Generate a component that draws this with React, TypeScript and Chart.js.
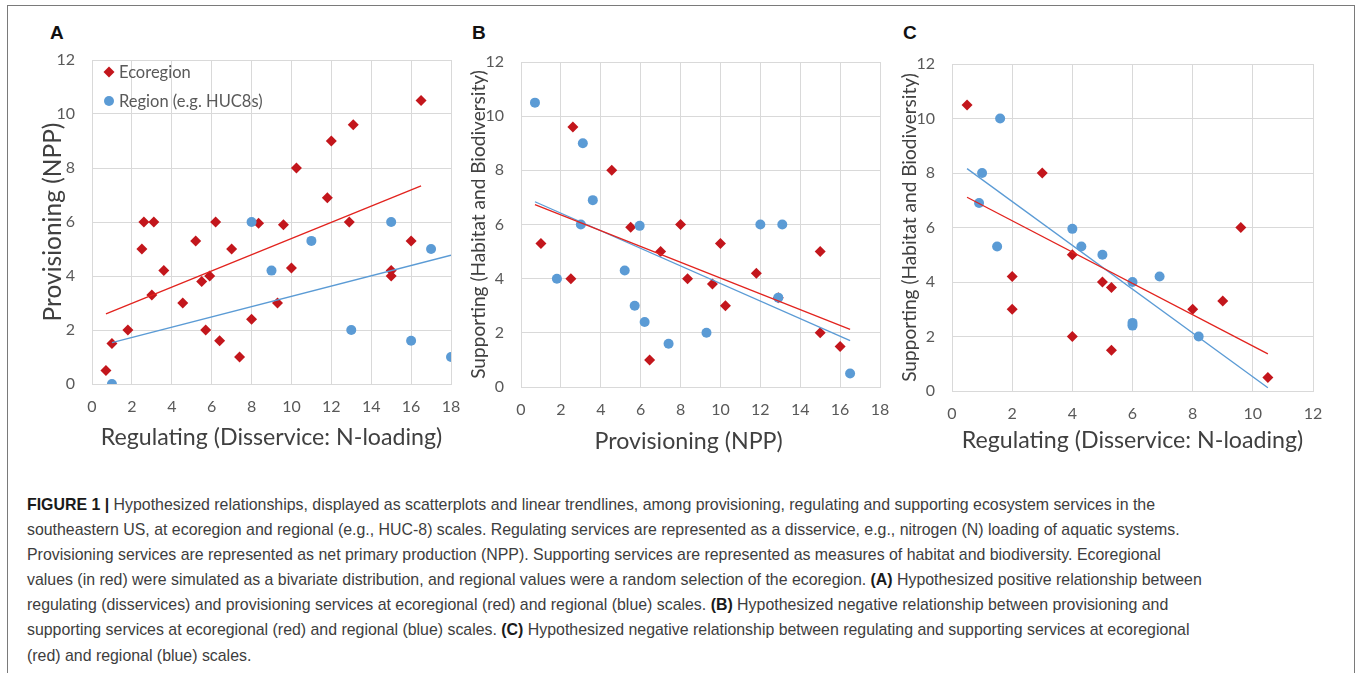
import React, { useEffect, useRef } from "react";
import { Chart, registerables } from "chart.js";

Chart.register(...registerables);

// ---------- Data ----------
// Panel A: Regulating (x) vs Provisioning (y)
const aEcoX = [0.7, 1.0, 1.8, 2.5, 2.6, 3.1, 3.0, 3.6, 4.55, 5.2, 5.5, 5.7, 5.9, 6.2, 6.4, 7.0, 7.4, 8.0, 8.35, 9.3, 9.6, 10.0, 10.25, 11.8, 12.0, 12.9, 13.1, 15.0, 15.0, 16.0, 16.5];
const aEcoY = [0.5, 1.5, 2.0, 5.0, 6.0, 6.0, 3.3, 4.2, 3.0, 5.3, 3.8, 2.0, 4.0, 6.0, 1.6, 5.0, 1.0, 2.4, 5.95, 3.0, 5.9, 4.3, 8.0, 6.9, 9.0, 6.0, 9.6, 4.2, 4.0, 5.3, 10.5];
const aRegX = [1.0, 8.0, 9.0, 11.0, 13.0, 15.0, 16.0, 17.0, 18.0];
const aRegY = [0.0, 6.0, 4.2, 5.3, 2.0, 6.0, 1.6, 5.0, 1.0];
const aEcoTrendX = [0.7, 16.5];
const aEcoTrendY = [2.6, 7.34];
const aRegTrendX = [1.0, 18.0];
const aRegTrendY = [1.53, 4.77];

// Panel B: Provisioning (x) vs Supporting (y)
const bEcoX = [1.0, 2.5, 2.6, 4.55, 5.5, 6.45, 7.0, 8.0, 8.35, 9.6, 10.0, 10.25, 11.8, 12.9, 15.0, 15.0, 16.0];
const bEcoY = [5.3, 4.0, 9.6, 8.0, 5.9, 1.0, 5.0, 6.0, 4.0, 3.8, 5.3, 3.0, 4.2, 3.3, 5.0, 2.0, 1.5];
const bRegX = [0.7, 1.8, 3.0, 3.1, 3.6, 5.2, 5.7, 5.95, 6.2, 7.4, 9.3, 12.0, 13.1, 12.9, 16.5];
const bRegY = [10.5, 4.0, 6.0, 9.0, 6.9, 4.3, 3.0, 5.95, 2.4, 1.6, 2.0, 6.0, 6.0, 3.3, 0.5];
const bEcoTrendX = [0.7, 16.5];
const bEcoTrendY = [6.73, 2.13];
const bRegTrendX = [0.7, 16.5];
const bRegTrendY = [6.84, 1.71];

// Panel C: Regulating (x) vs Supporting (y)
const cEcoX = [0.5, 2.0, 2.0, 3.0, 4.0, 4.0, 5.0, 5.3, 5.3, 8.0, 9.0, 9.6, 10.5];
const cEcoY = [10.5, 4.2, 3.0, 8.0, 5.0, 2.0, 4.0, 3.8, 1.5, 3.0, 3.3, 6.0, 0.5];
const cRegX = [0.9, 1.0, 1.5, 1.6, 4.0, 4.3, 5.0, 6.0, 6.0, 6.0, 6.9, 8.2];
const cRegY = [6.9, 8.0, 5.3, 10.0, 5.95, 5.3, 5.0, 4.0, 2.5, 2.4, 4.2, 2.0];
const cEcoTrendX = [0.5, 10.5];
const cEcoTrendY = [7.11, 1.36];
const cRegTrendX = [0.5, 10.5];
const cRegTrendY = [8.16, 0.12];

const xMaxA = 18;
const xMaxB = 18;
const xMaxC = 12;
const yMaxAll = 12;
const tickStep = 2;

const ecoLabel = "Ecoregion";
const regLabel = "Region (e.g. HUC8s)";

// ---------- Styles ----------
const FONT = "Lato, 'Open Sans', 'DejaVu Sans', sans-serif";
const RED = "#C3161C";
const RED_LINE = "#E2231E";
const BLUE = "#5B9BD5";
const BLUE_LINE = "#5B9BD5";
const GRID = "#D9D9D9";
const TICK = "#595959";
const TITLE = "#404040";

function pts(xs: number[], ys: number[]) {
  return xs.map((x, i) => ({ x, y: ys[i] }));
}

function buildDatasets(
  ecoX: number[], ecoY: number[], regX: number[], regY: number[],
  ecoTX: number[], ecoTY: number[], regTX: number[], regTY: number[]
) {
  return [
    {
      label: ecoLabel + " trend",
      data: pts(ecoTX, ecoTY),
      showLine: true,
      borderColor: RED_LINE,
      borderWidth: 1.3,
      pointRadius: 0,
      fill: false,
    },
    {
      label: regLabel + " trend",
      data: pts(regTX, regTY),
      showLine: true,
      borderColor: BLUE_LINE,
      borderWidth: 1.3,
      pointRadius: 0,
      fill: false,
    },
    {
      label: regLabel,
      data: pts(regX, regY),
      pointStyle: "circle",
      pointRadius: 5,
      backgroundColor: BLUE,
      borderColor: BLUE,
      borderWidth: 0,
      showLine: false,
    },
    {
      label: ecoLabel,
      data: pts(ecoX, ecoY),
      pointStyle: "rectRot",
      pointRadius: 5.5,
      backgroundColor: RED,
      borderColor: RED,
      borderWidth: 0,
      showLine: false,
    },
  ];
}

const insideLegend = {
  id: "insideLegend",
  afterDatasetsDraw(chart: any, _args: any, opts: any) {
    if (!opts || !opts.items) return;
    const { ctx, chartArea } = chart;
    ctx.save();
    ctx.font = `${opts.fontSize}px ${FONT}`;
    ctx.textBaseline = "middle";
    opts.items.forEach((dsIndex: number, i: number) => {
      const ds = chart.data.datasets[dsIndex];
      const cx = chartArea.left + opts.markerX;
      const cy = chartArea.top + opts.firstY + i * opts.rowGap;
      ctx.fillStyle = ds.backgroundColor;
      ctx.beginPath();
      const r = ds.pointRadius;
      if (ds.pointStyle === "rectRot") {
        ctx.moveTo(cx - r, cy);
        ctx.lineTo(cx, cy - r);
        ctx.lineTo(cx + r, cy);
        ctx.lineTo(cx, cy + r);
        ctx.closePath();
      } else {
        ctx.arc(cx, cy, r, 0, Math.PI * 2);
      }
      ctx.fill();
      ctx.fillStyle = TICK;
      ctx.fillText(ds.label, chartArea.left + opts.textX, cy + 1);
    });
    ctx.restore();
  },
};

type Geo = {
  left: number; top: number; width: number; height: number;
  padTop: number; padRight: number; yAxisW: number; xAxisH: number;
  yTitlePad: number; xTitlePad: number; yTitleSize: number; xTitleSize: number;
};

function Panel(props: {
  geo: Geo; xMax: number; xTitle: string; yTitle: string; datasets: any[]; legend?: boolean;
}) {
  const ref = useRef<HTMLCanvasElement>(null);
  const { geo, xMax, xTitle, yTitle, datasets, legend } = props;
  useEffect(() => {
    const chart = new Chart(ref.current as HTMLCanvasElement, {
      type: "scatter",
      data: { datasets } as any,
      plugins: legend ? [insideLegend as any] : [],
      options: {
        responsive: false,
        animation: false,
        devicePixelRatio: 1,
        layout: { padding: { top: geo.padTop, right: geo.padRight, left: 0, bottom: 0 } },
        plugins: {
          legend: { display: false },
          tooltip: { enabled: false },
          insideLegend: legend
            ? { items: [3, 2], markerX: 17, textX: 27, firstY: 12, rowGap: 29, fontSize: 16.5 }
            : undefined,
        } as any,
        scales: {
          x: {
            type: "linear",
            min: 0,
            max: xMax,
            afterFit: (s: any) => { s.height = geo.xAxisH; },
            grid: { color: GRID, lineWidth: 1, drawTicks: false },
            border: { display: true, color: GRID },
            ticks: { stepSize: tickStep, color: TICK, font: { family: FONT, size: 16 }, padding: 13, maxRotation: 0 },
            title: {
              display: true,
              text: xTitle,
              color: TITLE,
              font: { family: FONT, size: geo.xTitleSize },
              padding: { top: 0, bottom: geo.xTitlePad },
            },
          },
          y: {
            type: "linear",
            min: 0,
            max: yMaxAll,
            afterFit: (s: any) => { s.width = geo.yAxisW; },
            grid: { color: GRID, lineWidth: 1, drawTicks: false },
            border: { display: true, color: GRID },
            ticks: { stepSize: tickStep, color: TICK, font: { family: FONT, size: 16 }, padding: 17 },
            title: {
              display: true,
              text: yTitle,
              color: TITLE,
              font: { family: FONT, size: geo.yTitleSize },
              padding: { top: geo.yTitlePad, bottom: 0 },
            },
          },
        },
      } as any,
    });
    return () => chart.destroy();
  }, []);
  return (
    <canvas
      ref={ref}
      width={geo.width}
      height={geo.height}
      style={{ position: "absolute", left: geo.left, top: geo.top, width: geo.width, height: geo.height }}
    />
  );
}

// chart areas: A 92-451 x 60-384, B 521-880 x 62-387, C 952-1313 x 64-391
const geoA: Geo = { left: 30, top: 30, width: 446, height: 424, padTop: 30, padRight: 25, yAxisW: 62, xAxisH: 70, yTitlePad: 8, xTitlePad: 3, yTitleSize: 24.5, xTitleSize: 23.2 };
const geoB: Geo = { left: 464, top: 32, width: 441, height: 425, padTop: 30, padRight: 25, yAxisW: 57, xAxisH: 70, yTitlePad: 3, xTitlePad: 1.5, yTitleSize: 19.1, xTitleSize: 23.2 };
const geoC: Geo = { left: 893, top: 34, width: 445, height: 427, padTop: 30, padRight: 25, yAxisW: 59, xAxisH: 70, yTitlePad: 5, xTitlePad: 7, yTitleSize: 19.1, xTitleSize: 23.2 };

const captionLines: { b?: string; t: string }[][] = [
  [{ b: "FIGURE 1 |", t: "" }, { t: " Hypothesized relationships, displayed as scatterplots and linear trendlines, among provisioning, regulating and supporting ecosystem services in the" }],
  [{ t: "southeastern US, at ecoregion and regional (e.g., HUC-8) scales. Regulating services are represented as a disservice, e.g., nitrogen (N) loading of aquatic systems." }],
  [{ t: "Provisioning services are represented as net primary production (NPP). Supporting services are represented as measures of habitat and biodiversity. Ecoregional" }],
  [{ t: "values (in red) were simulated as a bivariate distribution, and regional values were a random selection of the ecoregion. " }, { b: "(A)", t: "" }, { t: " Hypothesized positive relationship between" }],
  [{ t: "regulating (disservices) and provisioning services at ecoregional (red) and regional (blue) scales. " }, { b: "(B)", t: "" }, { t: " Hypothesized negative relationship between provisioning and" }],
  [{ t: "supporting services at ecoregional (red) and regional (blue) scales. " }, { b: "(C)", t: "" }, { t: " Hypothesized negative relationship between regulating and supporting services at ecoregional" }],
  [{ t: "(red) and regional (blue) scales." }],
];

const letterStyle: React.CSSProperties = {
  position: "absolute",
  fontFamily: "'Liberation Sans', Arial, sans-serif",
  fontWeight: 700,
  fontSize: 19,
  lineHeight: 1,
  color: "#111",
};

export default function App() {
  return (
    <div style={{ position: "absolute", left: 0, top: 0, width: 1358, height: 673, overflow: "hidden", background: "#fff" }}>
      <div style={{ position: "absolute", left: 7, top: 5, width: 1348, height: 720, border: "1.5px solid #7a7a7a", boxSizing: "border-box" }} />
      <div style={{ ...letterStyle, left: 50, top: 23 }}>A</div>
      <div style={{ ...letterStyle, left: 472, top: 23 }}>B</div>
      <div style={{ ...letterStyle, left: 903, top: 23 }}>C</div>
      <Panel
        geo={geoA}
        xMax={xMaxA}
        xTitle="Regulating (Disservice: N-loading)"
        yTitle="Provisioning (NPP)"
        datasets={buildDatasets(aEcoX, aEcoY, aRegX, aRegY, aEcoTrendX, aEcoTrendY, aRegTrendX, aRegTrendY)}
        legend
      />
      <Panel
        geo={geoB}
        xMax={xMaxB}
        xTitle={"Provisioning (NPP)" + "\u00A0".repeat(4)}
        yTitle="Supporting (Habitat and Biodiversity)"
        datasets={buildDatasets(bEcoX, bEcoY, bRegX, bRegY, bEcoTrendX, bEcoTrendY, bRegTrendX, bRegTrendY)}
      />
      <Panel
        geo={geoC}
        xMax={xMaxC}
        xTitle="Regulating (Disservice: N-loading)"
        yTitle="Supporting (Habitat and Biodiversity)"
        datasets={buildDatasets(cEcoX, cEcoY, cRegX, cRegY, cEcoTrendX, cEcoTrendY, cRegTrendX, cRegTrendY)}
      />
      <div
        style={{
          position: "absolute",
          left: 27,
          top: 492,
          fontFamily: "'Liberation Sans', Arial, sans-serif",
          fontSize: 15.9,
          lineHeight: "25.1px",
          color: "#3d3d3d",
          whiteSpace: "nowrap",
        }}
      >
        {captionLines.map((line, i) => (
          <div key={i}>
            {line.map((seg, j) =>
              seg.b ? (
                <b key={j} style={{ color: "#1a1a1a" }}>{seg.b}</b>
              ) : (
                <span key={j}>{seg.t}</span>
              )
            )}
          </div>
        ))}
      </div>
    </div>
  );
}
